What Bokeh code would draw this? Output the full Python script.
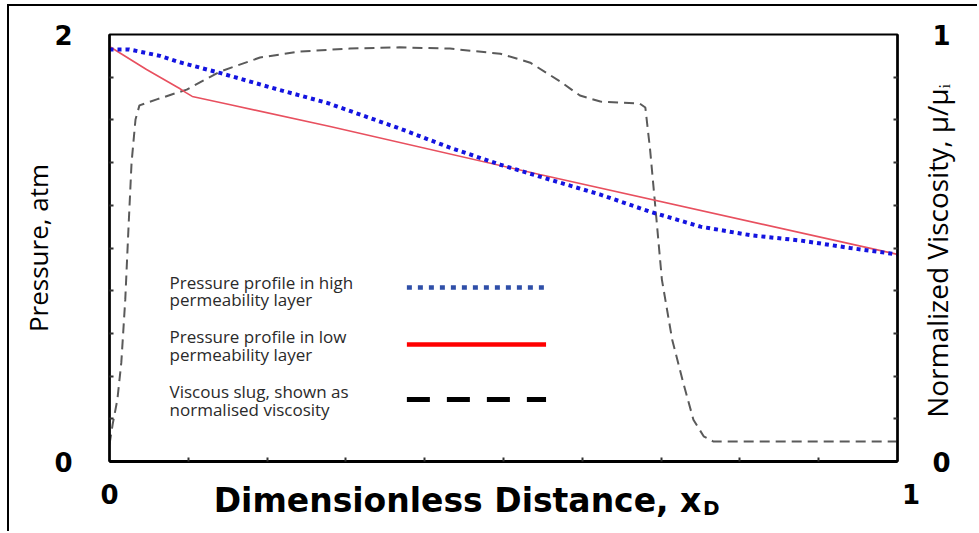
import math
from bokeh.plotting import figure
from bokeh.models import Range1d, LinearAxis, FixedTicker, Label
from bokeh.embed import file_html
from bokeh.resources import INLINE

# ---------------- data ----------------
# Pressure profile in high permeability layer (left axis, atm)
x_high = [0.0, 0.025, 0.064, 0.089, 0.140, 0.216, 0.276, 0.368, 0.432, 0.496,
          0.559, 0.623, 0.686, 0.750, 0.813, 0.877, 0.940, 1.0]
p_high = [1.93, 1.93, 1.90, 1.87, 1.82, 1.74, 1.68, 1.56, 1.47, 1.39,
          1.32, 1.25, 1.17, 1.10, 1.06, 1.035, 1.00, 0.97]

# Pressure profile in low permeability layer (left axis, atm)
x_low = [0.0, 0.047, 0.089, 0.097, 0.105, 0.152, 0.280, 0.546, 1.0]
p_low = [1.944, 1.836, 1.747, 1.728, 1.710, 1.672, 1.569, 1.344, 0.970]

# Viscous slug, normalised viscosity (right axis)
x_visc = [0.0, 0.004, 0.010, 0.015, 0.020, 0.024, 0.028, 0.033, 0.038, 0.060,
          0.098, 0.140, 0.191, 0.241, 0.305, 0.368, 0.432, 0.496, 0.534, 0.572,
          0.597, 0.623, 0.673, 0.680, 0.686, 0.693, 0.701, 0.714, 0.728, 0.741,
          0.754, 0.766, 1.0]
visc = [0.040, 0.087, 0.145, 0.232, 0.379, 0.543, 0.700, 0.801, 0.834, 0.848,
        0.871, 0.913, 0.946, 0.960, 0.967, 0.970, 0.967, 0.955, 0.934, 0.890,
        0.857, 0.843, 0.838, 0.829, 0.731, 0.590, 0.426, 0.286, 0.185, 0.098,
        0.059, 0.047, 0.047]

legend_labels = [["Pressure profile in high", "permeability layer"],
                 ["Pressure profile in low", "permeability layer"],
                 ["Viscous slug, shown as", "normalised viscosity"]]

x_ticks = [0, 1]
left_ticks = [0, 2]
right_ticks = [0, 1]

x_title = "Dimensionless Distance, x"
x_title_sub = "D"
y_title = "Pressure, atm"
y2_title = "Normalized Viscosity, \u03bc/\u03bc\u1d62"

# ---------------- figure ----------------
OX, OY = 9.5, 6.5                     # canvas offset inside the outer border
W, H = 970, 527
FL, FR, FT, FB = 110, 897, 35, 462    # frame position in the window (pixels)

p = figure(width=W, height=H, output_backend="svg", toolbar_location=None,
           x_range=Range1d(0, 1), y_range=Range1d(0, 2),
           min_border_left=int(round(FL - OX)), min_border_right=int(round(W - (FR - OX))),
           min_border_top=int(round(FT - OY)), min_border_bottom=int(round(H - (FB - OY))),
           x_axis_location=None, y_axis_location=None)
p.styles = {"margin-top": "4px", "margin-left": "7px",
            "border-top": "2.5px solid black", "border-left": "2.5px solid black"}
p.extra_y_ranges = {"visc": Range1d(0, 1)}
p.xgrid.visible = False
p.ygrid.visible = False
p.outline_line_color = "black"
p.outline_line_width = 2
p.outline_line_alpha = 1
p.background_fill_color = "white"
p.border_fill_color = "white"


def px_x(px):
    return (px - FL) / (FR - FL)


def px_y(py):
    return (FB - py) / (FB - FT) * 2.0


tick_font = "DejaVu Sans"

xaxis = LinearAxis(ticker=FixedTicker(ticks=x_ticks, minor_ticks=[i / 10 for i in range(1, 10)]),
                   major_label_overrides={1: "\u00a0\u00a0\u00a01"})
yaxis = LinearAxis(ticker=FixedTicker(ticks=left_ticks, minor_ticks=[i / 5 for i in range(1, 10)]))
raxis = LinearAxis(y_range_name="visc",
                   ticker=FixedTicker(ticks=right_ticks, minor_ticks=[i / 10 for i in range(1, 10)]))
for ax, lw, st in ((xaxis, 3, 18), (yaxis, 2.5, 37), (raxis, 2.5, 35)):
    ax.axis_line_width = lw
    ax.axis_line_color = "black"
    ax.major_tick_in = 0
    ax.major_tick_out = 0
    ax.minor_tick_in = 4
    ax.minor_tick_out = 0
    ax.minor_tick_line_width = 2
    ax.minor_tick_line_color = "#333333"
    ax.major_label_text_font = tick_font
    ax.major_label_text_font_style = "bold"
    ax.major_label_text_font_size = "26px"
    ax.major_label_text_color = "black"
    ax.major_label_standoff = st
    ax.axis_label_text_color = "black"
    ax.axis_label_text_font_style = "normal"

# axis titles
yaxis.axis_label = y_title
yaxis.axis_label_text_font = "Open Sans"
yaxis.axis_label_text_font_size = "26px"
yaxis.axis_label_standoff = -5

# right title reads bottom-to-top; anchored at the frame start, pushed up by no-break spaces
raxis.axis_label = "\u00a0" * 6 + y2_title
raxis.axis_label_text_font = "Open Sans"
raxis.axis_label_text_font_size = "28px"
raxis.axis_label_standoff = -17
try:
    raxis.axis_label_orientation = math.pi / 2
except Exception:
    pass
try:
    raxis.axis_label_align = "start"
except Exception:
    pass

# bottom title, shifted left of the frame centre with trailing no-break spaces
xaxis.axis_label = x_title + "\u00a0" * 8
xaxis.axis_label_text_font = tick_font
xaxis.axis_label_text_font_style = "bold"
xaxis.axis_label_text_font_size = "33px"
xaxis.axis_label_standoff = -32

# second (invisible) bottom axis carrying the subscript "D"
d_pos = px_x(711)
subaxis = LinearAxis(ticker=FixedTicker(ticks=[d_pos]),
                     major_label_overrides={d_pos: x_title_sub})
subaxis.axis_line_alpha = 0
subaxis.major_tick_in = 0
subaxis.major_tick_out = 0
subaxis.minor_tick_in = 0
subaxis.minor_tick_out = 0
subaxis.major_label_text_font = tick_font
subaxis.major_label_text_font_style = "bold"
subaxis.major_label_text_font_size = "20px"
subaxis.major_label_text_color = "black"
subaxis.major_label_standoff = -27

p.add_layout(xaxis, "below")
p.add_layout(subaxis, "below")
p.add_layout(yaxis, "left")
p.add_layout(raxis, "right")

# ---------------- curves ----------------
p.line(x_visc, visc, y_range_name="visc", line_color="#5a5a5a", line_width=2,
       line_dash="10 6")
p.line(x_low, p_low, line_color="#E8505F", line_width=1.6)
p.line(x_high, p_high, line_color="#1414E0", line_width=4, line_dash="4 4")

# ---------------- legend (manual, text left of line) ----------------
text_x = px_x(170)
rows = [(283, 300), (337, 355), (392, 410)]
for (y1, y2), lines in zip(rows, legend_labels):
    for yy, t in zip((y1, y2), lines):
        p.add_layout(Label(x=text_x, y=px_y(yy), text=t, text_font="Open Sans",
                           text_font_size="17px", text_color="#2a2a2a",
                           text_baseline="middle", text_align="left"))

seg_x0, seg_x1 = px_x(407), px_x(546)
p.segment(x0=[seg_x0], x1=[seg_x1], y0=[px_y(288)], y1=[px_y(288)],
          line_color="#2F4FA8", line_width=4.5, line_dash="5 6")
p.segment(x0=[seg_x0], x1=[seg_x1], y0=[px_y(345)], y1=[px_y(345)],
          line_color="#FF0000", line_width=4.5)
p.segment(x0=[seg_x0], x1=[seg_x1], y0=[px_y(400)], y1=[px_y(400)],
          line_color="black", line_width=5, line_dash="23 17")

open("out.html", "w").write(file_html(p, INLINE))
